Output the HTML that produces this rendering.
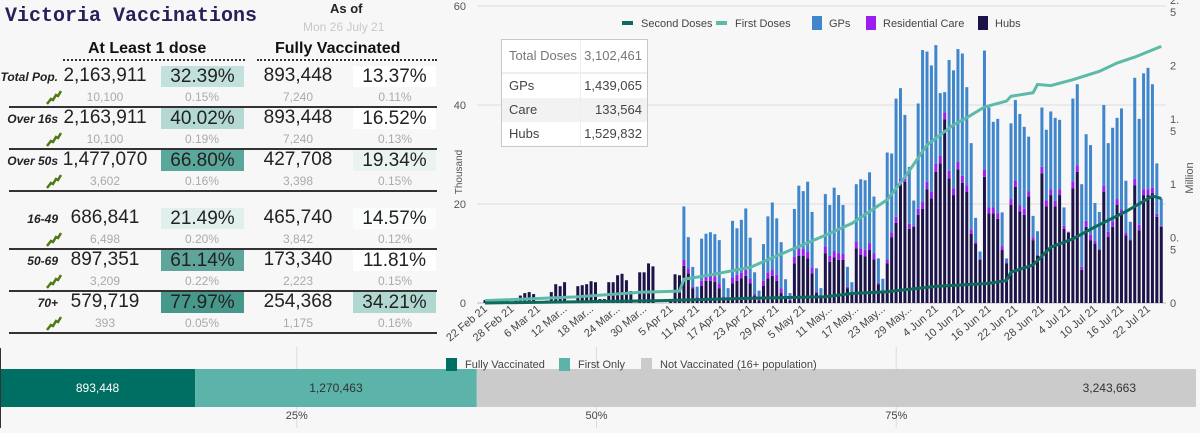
<!DOCTYPE html>
<html><head><meta charset="utf-8"><style>
body{margin:0;width:1200px;height:433px;background:#f7f7f7;overflow:hidden;font-family:"Liberation Sans",sans-serif;position:relative}
.a{position:absolute;white-space:nowrap}
.num{font-size:19px;color:#222;transform:translateX(-50%)}
.sub{font-size:12px;color:#aaa;transform:translateX(-50%)}
.box{position:absolute;width:83px;height:21px;font-size:19px;color:#222;text-align:center;line-height:21px}
.lbl{font-size:12px;font-weight:bold;font-style:italic;color:#222;text-align:right;width:58px;left:0}
.sep{position:absolute;left:9px;width:428px;height:2px;background:#333}
</style></head><body>
<div class="a" style="left:5px;top:5px;font-family:'Liberation Mono',monospace;font-weight:bold;font-size:20px;color:#2a1f5a">Victoria Vaccinations</div>
<div class="a" style="left:330px;top:1px;font-size:13px;font-weight:bold;color:#222">As of</div>
<div class="a" style="left:303px;top:20px;font-size:12px;color:#c8c8c8">Mon 26 July 21</div>
<div class="a" style="left:88px;top:40px;font-size:16px;font-weight:bold;color:#111">At Least 1 dose</div>
<div class="a" style="left:275px;top:40px;font-size:16px;font-weight:bold;color:#111">Fully Vaccinated</div>
<div class="a" style="left:63px;top:59px;width:182px;border-top:2px dotted #333"></div>
<div class="a" style="left:257px;top:59px;width:180px;border-top:2px dotted #333"></div>
<div id="tbl"></div>

<svg width="1200" height="433" style="position:absolute;left:0;top:0" id="chart"></svg>

<div class="a" style="left:501px;top:39px;width:145px;height:106px;border:1px solid #c8c8c8;background:#fff;font-size:13px;color:#444">
 <div style="height:32px;line-height:32px;border-bottom:2px solid #eee;position:relative"><span style="position:absolute;left:7px;color:#777">Total Doses</span><span style="position:absolute;right:5px;color:#777">3,102,461</span></div>
 <div style="height:24px;line-height:24px;position:relative"><span style="position:absolute;left:7px">GPs</span><span style="position:absolute;right:5px">1,439,065</span></div>
 <div style="height:24px;line-height:24px;position:relative;background:#f2f2f2"><span style="position:absolute;left:7px">Care</span><span style="position:absolute;right:5px">133,564</span></div>
 <div style="height:24px;line-height:24px;position:relative"><span style="position:absolute;left:7px">Hubs</span><span style="position:absolute;right:5px">1,529,832</span></div>
 <div style="position:absolute;left:78px;top:0;bottom:0;border-left:1px solid #eee"></div>
</div>

<svg width="1200" height="433" style="position:absolute;left:0;top:0" id="bottom"></svg>

<script>
// ---- table ----
const rowLabels=["Total Pop.","Over 16s","Over 50s","16-49","50-69","70+"];
const dose1=["2,163,911","2,163,911","1,477,070","686,841","897,351","579,719"];
const dose1Pct=["32.39%","40.02%","66.80%","21.49%","61.14%","77.97%"];
const dose1Day=["10,100","10,100","3,602","6,498","3,209","393"];
const dose1DayPct=["0.15%","0.19%","0.16%","0.20%","0.22%","0.05%"];
const full=["893,448","893,448","427,708","465,740","173,340","254,368"];
const fullPct=["13.37%","16.52%","19.34%","14.57%","11.81%","34.21%"];
const fullDay=["7,240","7,240","3,398","3,842","2,223","1,175"];
const fullDayPct=["0.11%","0.13%","0.15%","0.12%","0.15%","0.16%"];
const c1=["#c2e1dc","#b4d9d3","#5aa79b","#e2f0ed","#5ea69b","#47978a"];
const c2=["#ffffff","#ffffff","#e9f3f1","#fbfdfd","#ffffff","#b1d7d1"];
const rowY=[66,108,150,208,250,292];
const T=document.getElementById('tbl');
function add(html){const d=document.createElement('div');d.innerHTML=html;const e=d.firstChild;T.appendChild(e);return e;}
rowLabels.forEach((l,i)=>{
 const y=rowY[i];
 let e=add(`<div class="a lbl" style="top:${y+4}px">${l}</div>`);
 
 e=add(`<div class="a num" style="left:${i<3?105:105}px;top:${y-1}px">${dose1[i]}</div>`);
 
 e=add(`<div class="box" style="left:161px;top:${y}px;background:${c1[i]}">${dose1Pct[i]}</div>`);
 
 e=add(`<div class="a num" style="left:298px;top:${y-1}px">${full[i]}</div>`);
 
 e=add(`<div class="box" style="left:353px;top:${y}px;background:${c2[i]}">${fullPct[i]}</div>`);
 
 [[105,dose1Day[i]],[202,dose1DayPct[i]],[298,fullDay[i]],[395,fullDayPct[i]]].forEach(p=>{
  e=add(`<div class="a sub" style="left:${p[0]}px;top:${y+24}px">${p[1]}</div>`);
  
 });
 e=add(`<svg class="a" style="left:46px;top:${y+23}px" width="16" height="16"><polyline points="1,15 5,10 7,11 10,6 12,7 15,2" fill="none" stroke="#4d7a12" stroke-width="2.5"/></svg>`);
 
 e=add(`<div class="sep" style="top:${y+40}px"></div>`);
 
});

// ---- chart data (thousands per day from 22 Feb 21) ----
const totals=[0.6,0.7,0.8,0.8,0.7,0.5,0,1.0,1.5,2.0,2.2,1.8,0.2,0.4,0.5,2.2,3.8,3.4,4.2,0,0,3.4,3.6,3.8,4.4,4.2,0.8,0.8,4.2,4.2,5.6,5.9,4.6,2.4,0,6.2,6.2,8.0,7.4,0,0,0,0.3,5.8,5.6,
19.5,13.3,7.3,3.3,13,14,14.3,13.9,12.7,5,3,16.6,15.1,16.8,19.1,13.2,6.2,2.5,
11.9,17.5,20.3,17.1,12.3,4.8,2,19,23.7,22.6,24.5,18.4,7,3,
22,19.8,23.3,21.8,19.8,7.3,4.2,24,25,24.8,26.4,21.5,9,4.9,
30.4,30.2,41.3,43.4,38,27.5,20.7,40.3,51.1,50.8,48,52.1,42.4,42.6,49.1,47,51.3,50.4,43.6,32.3,17.2,10.4,51,39.5,36.6,37.2,18.3,9,36.3,41,38.2,35.6,33.6,17.6,14.5,39.5,35,38.7,37.4,37,19.3,14.4,41.3,44.2,24,34.1,31.9,20.2,18.4,40,32.3,35.4,37.4,39.3,24.7,16.4,45.5,37.2,46.4,47.5,44.2,28.2,21.1];
const hubs=[0.6,0.7,0.8,0.8,0.7,0.5,0,1.0,1.5,2.0,2.2,1.8,0.2,0.4,0.5,2.2,3.8,3.4,4.2,0,0,3.4,3.6,3.8,4.4,4.2,0.8,0.8,4.2,4.2,5.6,5.9,4.6,2.4,0,6.2,6.2,8.0,7.4,0,0,0,0.3,5.8,5.6,
7.5,6,3,1,3.5,4.5,4.5,4.3,3,1,0.5,4,4.5,5,5.5,4,1.5,0.5,
3.5,5,5.5,4.5,2,1,0.5,8,9.5,9.5,9,6,2,1,
10,8.3,9.2,8.7,8.7,3,2,11,9.7,9.4,10.7,8.8,3.8,2,
8,13.3,16.2,23.8,24.5,15,15.4,17.8,19,23,21.1,26.5,28.2,37.1,25.2,21.8,27,24.3,22.5,14,12,8.7,25.5,18.1,18.1,17,10.7,8,19.8,23.5,18.5,17.8,21.5,12.7,9.5,26.2,19.5,21.8,19.5,21.8,15,14.2,23.2,26.5,6.7,15.4,12.7,12,10.7,22.5,13.4,15.4,19.8,17.8,13.7,12.7,23.8,14.7,21.8,21.8,22.2,17.4,15.4];
const care=[0,0,0,0,0,0,0,0,0,0,0,0,0,0,0,0,0,0,0,0,0,0,0,0,0,0,0,0,0,0,0,0,0,0,0,0,0,0,0,0,0,0,0,0,0,
1.2,1.0,0.3,0.2,1.0,1.2,1.2,1.1,1.0,0.3,0.2,1.2,1.2,1.1,1.2,1.0,0.3,0.2,
1.0,1.2,1.3,1.2,1.0,0.3,0.2,1.3,1.4,1.4,1.3,1.2,0.3,0.2,
1.4,1.2,1.3,1.3,1.2,0.3,0.2,1.4,1.3,1.3,1.4,1.2,0.3,0.2,
0.8,1.0,1.2,1.3,1.2,1.0,0.3,1.2,1.4,1.5,1.4,1.6,1.5,1.4,1.5,1.4,1.5,1.4,1.3,0.9,0.3,0.2,1.5,1.2,1.2,1.1,0.8,0.2,1.2,1.3,1.2,1.2,1.1,0.6,0.2,1.3,1.2,1.2,1.1,1.2,0.6,0.2,1.4,1.3,0.6,1.2,1.1,0.6,0.2,1.2,1.0,1.1,1.2,1.1,0.6,0.2,1.3,1.1,1.2,1.2,1.1,0.6,0.2];
const firstDays=[0,20,35,44,45,50,60,70,77,83,89,91,95,100,106,109,113,118,119,124,125,128,133,139,143,147,153];
const firstVals=[0.02,0.05,0.09,0.10,0.20,0.23,0.30,0.46,0.57,0.67,0.82,0.87,1.06,1.33,1.50,1.56,1.65,1.70,1.74,1.77,1.84,1.83,1.88,1.95,2.02,2.07,2.16];
const secondDays=[0,40,60,77,83,91,102,114,118,119,124,128,133,138,145,151,153];
const secondVals=[0.0,0.02,0.04,0.053,0.08,0.095,0.14,0.165,0.19,0.26,0.32,0.47,0.54,0.64,0.77,0.90,0.88];
const leftTicks=[0,20,40,60];
const rightTicks=["0","0.\n5","1","1.\n5","2","2.\n5"];
const rightTickVals=[0,0.5,1,1.5,2,2.5];
const xLabels=["22 Feb 21","28 Feb 21","6 Mar 21","12 Mar...","18 Mar...","24 Mar...","30 Mar...","5 Apr 21","11 Apr 21","17 Apr 21","23 Apr 21","29 Apr 21","5 May 21","11 May...","17 May...","23 May...","29 May...","4 Jun 21","10 Jun 21","16 Jun 21","22 Jun 21","28 Jun 21","4 Jul 21","10 Jul 21","16 Jul 21","22 Jul 21"];

const X=d=>485+d*4.42;
const YK=v=>303-v*4.95;
const YM=m=>303-m*297/2.5;
const NS='http://www.w3.org/2000/svg';
const svg=document.getElementById('chart');
function el(tag,attrs,parent){const e=document.createElementNS(NS,tag);for(const k in attrs)e.setAttribute(k,attrs[k]);(parent||svg).appendChild(e);return e;}

leftTicks.forEach(v=>{
 const g=el('line',{x1:477,x2:1166,y1:YK(v),y2:YK(v),stroke:v===0?'#bbb':'#ddd','stroke-width':1});
 
 const t=el('text',{x:466,y:YK(v)+4,'text-anchor':'end','font-size':11,fill:'#555'});t.textContent=v;
 
});
rightTickVals.forEach((v,i)=>{
 const parts=rightTicks[i].split('\n');
 const t=el('text',{x:1170,y:YM(v)+(parts.length>1?-2:4),'font-size':11,fill:'#555'});
 
 parts.forEach((p,j)=>{const s=el('tspan',{x:1170,dy:j?12:0},t);s.textContent=p;});
});
let t=el('text',{transform:'translate(462,172) rotate(-90)','text-anchor':'middle','font-size':10,fill:'#555'});t.textContent='Thousand';

t=el('text',{transform:'translate(1193,178) rotate(-90)','text-anchor':'middle','font-size':11,fill:'#555'});t.textContent='Million';


totals.forEach((tot,d)=>{
 const c=care[d],h=Math.min(hubs[d],Math.max(tot-c,0)),g=Math.max(tot-h-c,0);
 const x=X(d)-1.5;
 let r=el('rect',{x:x,y:YK(h),width:3,height:h*4.95,fill:'#1c1448'});
 
 r=el('rect',{x:x,y:YK(h+c),width:3,height:c*4.95,fill:'#9a1ef0'});
 
 r=el('rect',{x:x,y:YK(h+c+g),width:3,height:g*4.95,fill:'#3f86cc'});
 
});
let p=el('polyline',{points:firstDays.map((d,i)=>X(d)+','+YM(firstVals[i])).join(' '),fill:'none',stroke:'#5dbaa8','stroke-width':3});

p=el('polyline',{points:secondDays.map((d,i)=>X(d)+','+YM(secondVals[i])).join(' '),fill:'none',stroke:'#0e6b5b','stroke-width':3});


xLabels.forEach((l,i)=>{
 const x=X(i*6)+3;
 const tx=el('text',{transform:`translate(${x},310) rotate(-40)`,'text-anchor':'end','font-size':11,fill:'#444'});tx.textContent=l;
 
});

const legend=[["Second Doses","#0e6b5b","line",622],["First Doses","#5dbaa8","line",716],["GPs","#3f86cc","sq",812],["Residential Care","#9a1ef0","sq",866],["Hubs","#1c1448","sq",978]];
legend.forEach(L=>{
 let m;
 if(L[2]==='line')m=el('rect',{x:L[3],y:21,width:11,height:4,fill:L[1]});
 else m=el('rect',{x:L[3],y:16,width:10,height:14,fill:L[1]});
 
 const tt=el('text',{x:L[3]+(L[2]==='line'?19:17),y:27,'font-size':11,fill:'#444'});tt.textContent=L[0];
 
});

// ---- bottom bar ----
const segLabels=["Fully Vaccinated","First Only","Not Vaccinated (16+ population)"];
const segValues=[893448,1270463,3243663];
const segText=["893,448","1,270,463","3,243,663"];
const segColors=["#006f63","#5bb3aa","#cbcbcb"];
const pctTicks=[25,50,75];
const B=document.getElementById('bottom');
const totalPop=segValues.reduce((a,b)=>a+b,0);
const XP=f=>-3+f*1199;
function bel(tag,attrs){return el(tag,attrs,B);}
let cum=0;
segValues.forEach((v,i)=>{
 const x0=XP(cum/totalPop),x1=XP((cum+v)/totalPop);cum+=v;
 const r=bel('rect',{x:Math.max(x0,0),y:369,width:x1-Math.max(x0,0),height:38,fill:segColors[i]});
 
 const tx=bel('text',{x:i===2?(x1-60):(Math.max(x0,0)+x1)/2,y:392,'text-anchor':i===2?'end':'middle','font-size':12,fill:i===0?'#fff':'#333'});tx.textContent=segText[i];
 
});
pctTicks.forEach(v=>{
 let l=bel('line',{x1:XP(v/100),x2:XP(v/100),y1:347,y2:369,stroke:'#ddd'});
 
 l=bel('line',{x1:XP(v/100),x2:XP(v/100),y1:407,y2:428,stroke:'#ddd'});
 
 const tx=bel('text',{x:XP(v/100),y:419,'text-anchor':'middle','font-size':11,fill:'#444'});tx.textContent=v+'%';
 
});
let ax=bel('line',{x1:0.5,x2:0.5,y1:348,y2:428,stroke:'#333'});

const legX=[446,559,641];
segLabels.forEach((l,i)=>{
 const r=bel('rect',{x:legX[i],y:358,width:11,height:13,fill:segColors[i]});
 
 const tx=bel('text',{x:legX[i]+19,y:368,'font-size':11,fill:'#444'});tx.textContent=l;
 
});
</script>
</body></html>
